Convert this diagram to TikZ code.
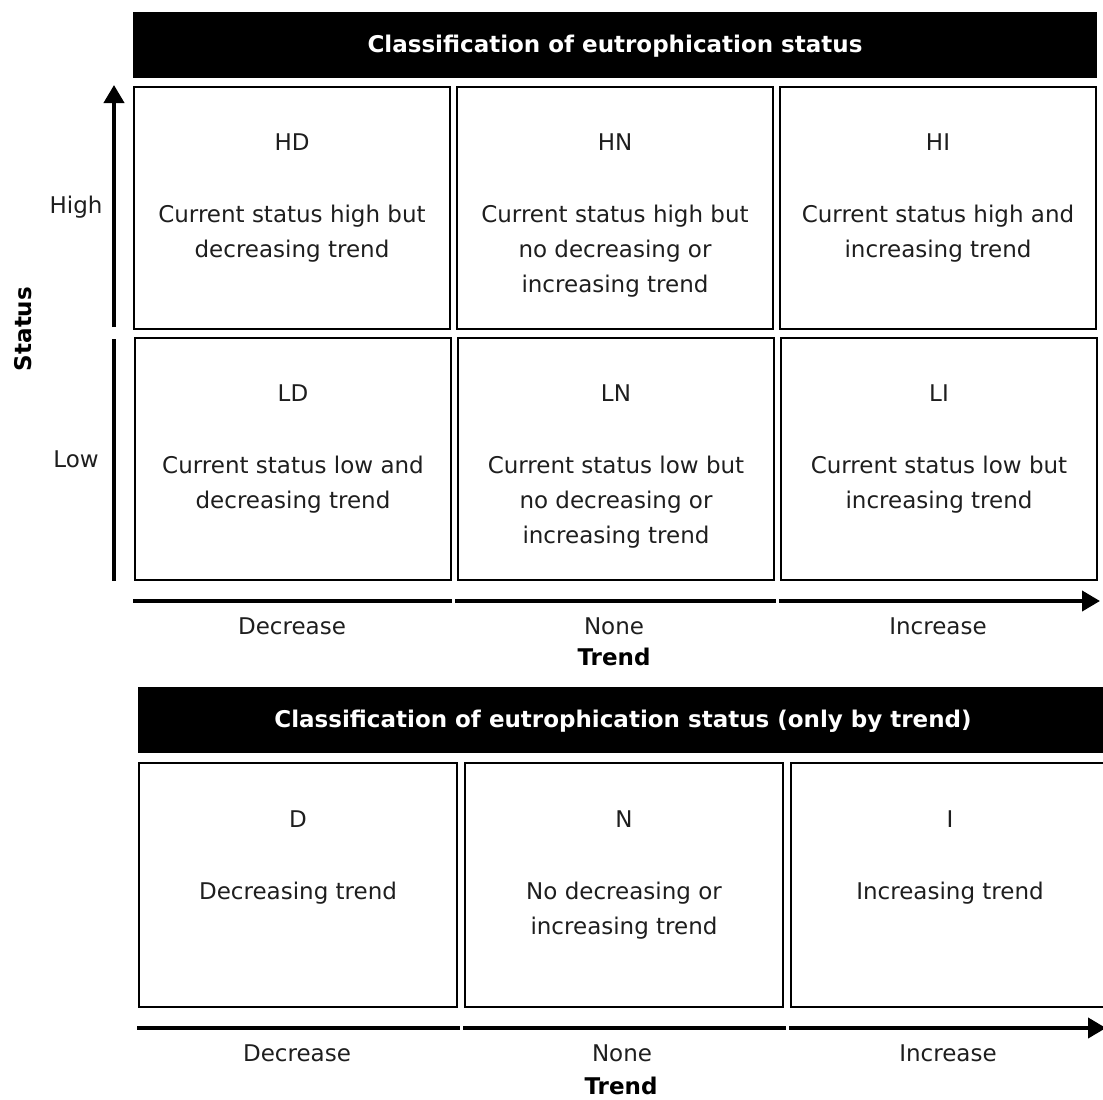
\documentclass[tikz,border=0pt]{standalone}
\usepackage{fontspec}
\setmainfont{DejaVu Sans}
\usetikzlibrary{arrows.meta}
\definecolor{txt}{HTML}{1E1E1E}
\begin{document}
\begin{tikzpicture}[x=1pt,y=-1pt,
  cell/.style={draw=black, line width=2.8pt, inner sep=0pt, minimum width=316pt, minimum height=242pt},
  cellb/.style={cell, minimum width=318pt, minimum height=244pt},
  headbar/.style={fill=black, inner sep=0pt},
  headtext/.style={text=white, font=\fontsize{23}{27}\selectfont\bfseries},
  code/.style={text=txt, font=\fontsize{23}{27}\selectfont},
  body/.style={text=txt, font=\fontsize{23}{35}\selectfont, align=center, anchor=north, inner sep=0pt},
  axlab/.style={text=txt, font=\fontsize{23}{27}\selectfont},
  axtitle/.style={text=black, font=\fontsize{23}{27}\selectfont\bfseries},
  axis/.style={line width=4pt},
  axarrow/.style={axis, -{Triangle[length=18pt,width=20pt]}}
]
\useasboundingbox (0,0) rectangle (1103,1100);

% ---------- top part ----------
\node[headbar, minimum width=964pt, minimum height=66pt] (h1) at (615,45) {};
\node[headtext] (h1t) at (615,46) {Classification of eutrophication status};

\node[cell] (HD) at (292,208) {};
\node[cell] (HN) at (615,208) {};
\node[cell] (HI) at (938,208) {};
\node[cell] (LD) at (293,459) {};
\node[cell] (LN) at (616,459) {};
\node[cell] (LI) at (939,459) {};

\node[code] (tHD) at (292,142) {HD};
\node[code] (tHN) at (615,142) {HN};
\node[code] (tHI) at (938,142) {HI};
\node[code] (tLD) at (293,393) {LD};
\node[code] (tLN) at (616,393) {LN};
\node[code] (tLI) at (939,393) {LI};

\node[body] (bHD) at (292,204.5) {Current status high but\\decreasing trend};
\node[body] (bHN) at (615,204.5) {Current status high but\\no decreasing or\\increasing trend};
\node[body] (bHI) at (938,204.5) {Current status high and\\increasing trend};
\node[body] (bLD) at (293,455.5) {Current status low and\\decreasing trend};
\node[body] (bLN) at (616,455.5) {Current status low but\\no decreasing or\\increasing trend};
\node[body] (bLI) at (939,455.5) {Current status low but\\increasing trend};

% vertical axis
\coordinate (v1) at (114,327);
\coordinate (v2) at (114,85);
\coordinate (v3) at (114,339);
\coordinate (v4) at (114,581);
\draw[axarrow] (v1) -- (v2);
\draw[axis] (v3) -- (v4);
\node[axlab] (high) at (76,207) {High};
\node[axlab] (low) at (76,459) {Low};
\node[axtitle, rotate=90] (status) at (23,329) {Status};

% horizontal axis (top)
\coordinate (a1) at (133,601);
\coordinate (a2) at (452,601);
\coordinate (a3) at (455,601);
\coordinate (a4) at (776,601);
\coordinate (a5) at (779,601);
\coordinate (a6) at (1100,601);
\draw[axis] (a1) -- (a2);
\draw[axis] (a3) -- (a4);
\draw[axarrow] (a5) -- (a6);
\node[axlab] (dec1) at (292,626) {Decrease};
\node[axlab] (non1) at (614,626) {None};
\node[axlab] (inc1) at (938,626) {Increase};
\node[axtitle] (trend1) at (614,657) {Trend};

% ---------- bottom part ----------
\node[headbar, minimum width=970pt, minimum height=66pt, anchor=west] (h2) at (138,720) {};
\node[headtext] (h2t) at (623,721) {Classification of eutrophication status (only by trend)};

\node[cellb] (D) at (298,885) {};
\node[cellb] (N) at (624,885) {};
\node[cellb] (I) at (950,885) {};

\node[code] (tD) at (298,819) {D};
\node[code] (tN) at (624,819) {N};
\node[code] (tI) at (950,819) {I};

\node[body] (bD) at (298,881.5) {Decreasing trend};
\node[body] (bN) at (624,881.5) {No decreasing or\\increasing trend};
\node[body] (bI) at (950,881.5) {Increasing trend};

\coordinate (b1) at (137,1028);
\coordinate (b2) at (460,1028);
\coordinate (b3) at (463,1028);
\coordinate (b4) at (786,1028);
\coordinate (b5) at (789,1028);
\coordinate (b6) at (1106,1028);
\draw[axis] (b1) -- (b2);
\draw[axis] (b3) -- (b4);
\draw[axarrow] (b5) -- (b6);
\node[axlab] (dec2) at (297,1053) {Decrease};
\node[axlab] (non2) at (622,1053) {None};
\node[axlab] (inc2) at (948,1053) {Increase};
\node[axtitle] (trend2) at (621,1086) {Trend};
\end{tikzpicture}
\end{document}
